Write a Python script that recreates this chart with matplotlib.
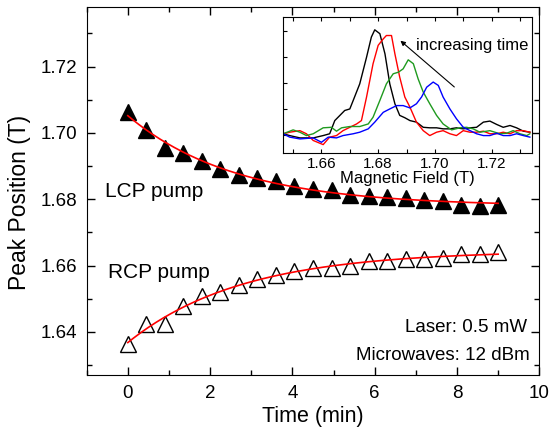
import numpy as np
import matplotlib
matplotlib.use("Agg")
import matplotlib.pyplot as plt
from matplotlib.ticker import MultipleLocator, NullFormatter

plt.rcParams['font.family'] = ['Liberation Sans', 'DejaVu Sans']

# Peak position vs time (min)
time_min = [0.0, 0.45, 0.9, 1.35, 1.8, 2.25, 2.7, 3.15, 3.6, 4.05, 4.5,
            4.95, 5.4, 5.85, 6.3, 6.75, 7.2, 7.65, 8.1, 8.55, 9.0]
lcp_peak = [1.7064, 1.7009, 1.6954, 1.6939, 1.6914, 1.6891, 1.6874, 1.6864, 1.6854, 1.6839, 1.6831,
            1.6829, 1.6814, 1.6809, 1.6807, 1.6804, 1.6799, 1.6794, 1.6784, 1.6778, 1.6784]
rcp_peak = [1.6364, 1.6424, 1.6424, 1.6478, 1.6509, 1.6519, 1.6541, 1.6559, 1.6572, 1.6582, 1.6592,
            1.6592, 1.6600, 1.6614, 1.6614, 1.6620, 1.6620, 1.6622, 1.6635, 1.6635, 1.6640]

# Inset spectra (field in T, signal in arb. units)
black_field = [1.6465, 1.6488, 1.6524, 1.6571, 1.6606, 1.6629, 1.6647, 1.6665, 1.6682, 1.6700, 1.6712, 1.6735,
               1.6759, 1.6776, 1.6788, 1.6806, 1.6824, 1.6841, 1.6859, 1.6876, 1.6894, 1.6912, 1.6935, 1.6959,
               1.6982, 1.7006, 1.7029, 1.7053, 1.7076, 1.7100, 1.7124, 1.7147, 1.7171, 1.7194, 1.7218, 1.7241,
               1.7265, 1.7288, 1.7312, 1.7335]
black_sig = [0.03, -0.04, -0.13, -0.13, -0.04, 0.03, 0.54, 0.74, 0.93, 0.99, 1.32, 1.96,
             2.99, 3.77, 4.05, 3.90, 3.12, 1.96, 1.19, 0.74, 0.65, 0.54, 0.48, 0.28,
             0.26, 0.26, 0.22, 0.22, 0.26, 0.22, 0.26, 0.28, 0.48, 0.52, 0.39, 0.28,
             0.35, 0.26, 0.13, 0.09]
red_field = [1.6465, 1.6488, 1.6524, 1.6547, 1.6571, 1.6606, 1.6629, 1.6653, 1.6676, 1.6700, 1.6724, 1.6741,
             1.6759, 1.6782, 1.6800, 1.6818, 1.6829, 1.6847, 1.6859, 1.6876, 1.6894, 1.6912, 1.6935, 1.6959,
             1.6982, 1.7006, 1.7029, 1.7053, 1.7076, 1.7100, 1.7124, 1.7147, 1.7171, 1.7194, 1.7218, 1.7241,
             1.7265, 1.7288, 1.7312, 1.7335]
red_sig = [0.03, 0.09, 0.15, 0.03, -0.23, -0.39, -0.10, -0.04, 0.15, 0.28, 0.41, 0.54,
           1.45, 2.74, 3.45, 3.70, 3.83, 3.83, 3.12, 2.22, 1.45, 1.06, 0.48, 0.15,
           -0.04, 0.09, 0.15, 0.03, -0.04, 0.15, 0.09, 0.09, 0.13, 0.03, 0.03, 0.09,
           0.03, 0.15, 0.15, 0.09]
green_field = [1.6465, 1.6500, 1.6524, 1.6547, 1.6571, 1.6606, 1.6635, 1.6653, 1.6671, 1.6700, 1.6735, 1.6765,
               1.6782, 1.6806, 1.6829, 1.6853, 1.6871, 1.6888, 1.6906, 1.6924, 1.6941, 1.6959, 1.6982, 1.7006,
               1.7029, 1.7059, 1.7088, 1.7112, 1.7135, 1.7159, 1.7194, 1.7229, 1.7253, 1.7276, 1.7300, 1.7324,
               1.7335]
green_sig = [0.03, 0.18, 0.09, -0.04, 0.03, 0.26, 0.28, 0.13, 0.26, 0.31, 0.31, 0.41,
             0.67, 1.32, 1.96, 2.35, 2.41, 2.54, 2.89, 2.74, 2.15, 1.64, 1.19, 0.74,
             0.41, 0.18, 0.26, 0.28, 0.22, 0.09, 0.15, 0.03, 0.05, 0.15, 0.03, -0.04,
             0.03]
blue_field = [1.6465, 1.6488, 1.6524, 1.6571, 1.6600, 1.6624, 1.6653, 1.6676, 1.6712, 1.6735, 1.6765, 1.6788,
              1.6818, 1.6841, 1.6865, 1.6888, 1.6912, 1.6935, 1.6953, 1.6971, 1.6994, 1.7012, 1.7029, 1.7053,
              1.7076, 1.7100, 1.7124, 1.7147, 1.7171, 1.7194, 1.7218, 1.7241, 1.7265, 1.7288, 1.7312, 1.7335]
blue_sig = [0.03, -0.10, -0.17, -0.13, -0.30, -0.10, -0.13, -0.04, 0.03, 0.09, 0.22, 0.48,
            0.86, 0.99, 1.12, 1.12, 1.03, 1.19, 1.45, 1.83, 2.03, 1.90, 1.45, 0.99,
            0.61, 0.28, 0.15, 0.03, -0.04, -0.04, 0.05, -0.04, -0.04, 0.03, -0.04, -0.10]


def exp_fit(t, y):
    # least squares fit of y = a + b*exp(-t/tau), scanning tau
    t = np.asarray(t)
    y = np.asarray(y)
    best = None
    for tau in np.linspace(0.3, 10, 500):
        A = np.column_stack([np.ones_like(t), np.exp(-t / tau)])
        coef, res, _, _ = np.linalg.lstsq(A, y, rcond=None)
        err = np.sum((A @ coef - y) ** 2)
        if best is None or err < best[0]:
            best = (err, tau, coef)
    _, tau, coef = best
    tt = np.linspace(t.min(), t.max(), 200)
    return tt, coef[0] + coef[1] * np.exp(-tt / tau)


fig = plt.figure(figsize=(5.52, 4.29), dpi=100)
ax = fig.add_axes([0.157, 0.126, 0.820, 0.858])

# Data points and fits
ax.plot(time_min, lcp_peak, "^", color="black", markersize=12, zorder=3)
ax.plot(time_min, rcp_peak, "^", markerfacecolor="white", markeredgecolor="black",
        markeredgewidth=1.0, markersize=12, zorder=3)
t_fit, lcp_fit = exp_fit(time_min, lcp_peak)
ax.plot(t_fit, lcp_fit, color="red", lw=1.2, zorder=4)
t_fit, rcp_fit = exp_fit(time_min, rcp_peak)
ax.plot(t_fit, rcp_fit, color="red", lw=1.2, zorder=4)

ax.set_xlim(-1, 10)
ax.set_ylim(1.627, 1.738)
ax.xaxis.set_major_locator(MultipleLocator(2))
ax.xaxis.set_minor_locator(MultipleLocator(1))
ax.yaxis.set_major_locator(MultipleLocator(0.02))
ax.yaxis.set_minor_locator(MultipleLocator(0.01))
ax.yaxis.set_major_formatter(matplotlib.ticker.FormatStrFormatter('%.2f'))
ax.tick_params(which="both", direction="in", top=True, right=True, labelsize=13.5, width=1)
ax.tick_params(which="major", length=6, pad=7)
ax.tick_params(which="minor", length=3.5)
ax.set_xlabel("Time (min)", fontsize=15.5, labelpad=3)
ax.set_ylabel("Peak Position (T)", fontsize=16.5)
ax.yaxis.set_label_coords(-0.123, 0.47)

ax.text(-0.55, 1.6824, "LCP pump", fontsize=15, va="center", ha="left")
ax.text(-0.48, 1.6578, "RCP pump", fontsize=15, va="center", ha="left")
ax.text(9.7, 1.6414, "Laser: 0.5 mW", fontsize=13.5, va="center", ha="right")
ax.text(9.77, 1.6328, "Microwaves: 12 dBm", fontsize=13.5, va="center", ha="right")

# Inset with spectra
ins = fig.add_axes([0.513, 0.643, 0.450, 0.317])
ins.plot(black_field, black_sig, color="black", lw=1)
ins.plot(red_field, red_sig, color="red", lw=1)
ins.plot(green_field, green_sig, color="#1f9a1f", lw=1)
ins.plot(blue_field, blue_sig, color="blue", lw=1)
ins.set_xlim(1.6465, 1.7341)
ins.set_ylim(-0.72, 4.54)
ins.xaxis.set_major_locator(MultipleLocator(0.02))
ins.xaxis.set_minor_locator(MultipleLocator(0.01))
ins.xaxis.set_major_formatter(matplotlib.ticker.FormatStrFormatter('%.2f'))
ins.yaxis.set_major_locator(MultipleLocator(1))
ins.yaxis.set_major_formatter(NullFormatter())
ins.tick_params(which="both", direction="in", top=True, labelsize=11, width=0.8)
ins.tick_params(which="major", length=3, pad=3)
ins.tick_params(which="minor", length=3)
ins.set_xlabel("Magnetic Field (T)", fontsize=12, labelpad=0)
ins.annotate("", xy=(1.6871, 3.70), xytext=(1.7076, 1.77),
             arrowprops=dict(arrowstyle="-|>", color="black", lw=0.8, mutation_scale=7))
ins.text(1.6935, 3.45, "increasing time", fontsize=12, va="center", ha="left")

plt.savefig("out.png", dpi=100)
